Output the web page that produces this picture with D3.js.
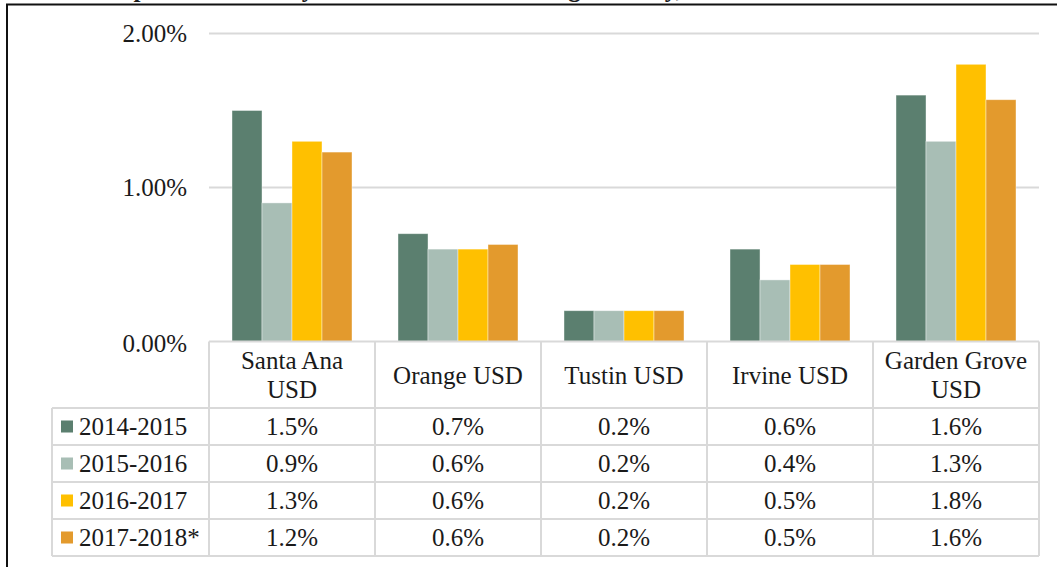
<!DOCTYPE html>
<html>
<head>
<meta charset="utf-8">
<script src="https://cdn.jsdelivr.net/npm/d3@7"></script>
<style>
  body { margin: 0; background: #fff; }
  text { font-family: "Liberation Serif", "Times New Roman", serif; fill: #1a1a1a; }
</style>
</head>
<body>
<div id="chart"></div>
<script>
const districts = ["Santa Ana USD", "Orange USD", "Tustin USD", "Irvine USD", "Garden Grove USD"];
const districtLines = [["Santa Ana", "USD"], ["Orange USD"], ["Tustin USD"], ["Irvine USD"], ["Garden Grove", "USD"]];
const years = ["2014-2015", "2015-2016", "2016-2017", "2017-2018*"];
const colors = ["#5b7f6f", "#a8beb5", "#ffc000", "#e39a2d"];

// rates in percent, one array per year
const rates2014 = [1.5, 0.7, 0.2, 0.6, 1.6];
const rates2015 = [0.9, 0.6, 0.2, 0.4, 1.3];
const rates2016 = [1.3, 0.6, 0.2, 0.5, 1.8];
const rates2017 = [1.23, 0.63, 0.2, 0.5, 1.57];
const series = [rates2014, rates2015, rates2016, rates2017];

const yTicks = [0, 1, 2];

const width = 1057;
const height = 567;
const plotLeft = 209, plotRight = 1039;
const plotTop = 33.5, plotBottom = 341.5;
const legendLeft = 52;
const headerBottom = 408;
const rowH = 37;
const fontSize = "25px";

const svg = d3.select("#chart")
    .append("svg")
        .attr("width", width)
        .attr("height", height);

// title, cut off by the top of the page
svg.append("text")
    .attr("x", 96)
    .attr("y", -3.5)
    .style("font-weight", "bold")
    .style("font-size", fontSize)
    .text("Suspension Rates by School District in Orange County, 2014-2018");

// frame
svg.append("line")
    .attr("x1", 6).attr("x2", width)
    .attr("y1", 4.5).attr("y2", 4.5)
    .attr("stroke", "#111").attr("stroke-width", 2);
svg.append("line")
    .attr("x1", 7).attr("x2", 7)
    .attr("y1", 4).attr("y2", height)
    .attr("stroke", "#111").attr("stroke-width", 2);

const xScale = d3.scaleBand()
    .domain(districts)
    .range([plotLeft, plotRight]);

const xInner = d3.scaleBand()
    .domain(years)
    .range([0, xScale.bandwidth()])
    .paddingOuter(0.767);

const yScale = d3.scaleLinear()
    .domain([0, 2])
    .range([plotBottom, plotTop]);

// gridlines
svg.append("g")
    .selectAll("line")
    .data(yTicks.filter(d => d > 0))
    .join("line")
        .attr("x1", plotLeft).attr("x2", plotRight)
        .attr("y1", d => yScale(d)).attr("y2", d => yScale(d))
        .attr("stroke", "#d9d9d9").attr("stroke-width", 2);

// y axis labels
const yAxis = svg.append("g")
    .attr("transform", "translate(" + 196 + ",0)")
    .call(d3.axisLeft(yScale)
        .tickValues(yTicks)
        .tickSize(0)
        .tickPadding(9)
        .tickFormat(d => d3.format(".2f")(d) + "%"));
yAxis.select(".domain").remove();
yAxis.selectAll("text")
    .style("font-size", fontSize)
    .style("font-family", "'Liberation Serif', 'Times New Roman', serif")
    .attr("fill", "#1a1a1a");
yAxis.selectAll(".tick").filter(d => d === 0).select("text").attr("dy", "0.4em");

// bars
const groups = svg.append("g")
    .selectAll("g")
    .data(districts)
    .join("g")
        .attr("transform", d => "translate(" + xScale(d) + ",0)");

groups.selectAll("rect")
    .data((d, i) => years.map((y, j) => ({year: y, value: series[j][i], color: colors[j]})))
    .join("rect")
        .attr("x", d => xInner(d.year))
        .attr("y", d => yScale(d.value))
        .attr("width", xInner.bandwidth())
        .attr("height", d => plotBottom - yScale(d.value))
        .attr("fill", d => d.color)
        .attr("stroke", "#ffffff")
        .attr("stroke-opacity", 0.5)
        .attr("stroke-width", 0.8);

// data table
const grid = svg.append("g")
    .attr("stroke", "#d9d9d9")
    .attr("stroke-width", 2);

const tableBottom = headerBottom + rowH * years.length;

grid.append("line")
    .attr("x1", plotLeft).attr("x2", plotRight)
    .attr("y1", plotBottom).attr("y2", plotBottom);

grid.selectAll(".hrow")
    .data(d3.range(years.length + 1))
    .join("line")
        .attr("class", "hrow")
        .attr("x1", legendLeft).attr("x2", plotRight)
        .attr("y1", i => headerBottom + i * rowH)
        .attr("y2", i => headerBottom + i * rowH);

grid.selectAll(".vcol")
    .data(districts.map(d => xScale(d)).concat([plotRight]))
    .join("line")
        .attr("class", "vcol")
        .attr("x1", d => d).attr("x2", d => d)
        .attr("y1", plotBottom).attr("y2", tableBottom);

grid.append("line")
    .attr("x1", legendLeft).attr("x2", legendLeft)
    .attr("y1", headerBottom).attr("y2", tableBottom);

// header labels
const header = svg.append("g")
    .selectAll("text")
    .data(districts)
    .join("text")
        .attr("x", d => xScale(d) + xScale.bandwidth() / 2)
        .attr("text-anchor", "middle")
        .style("font-size", fontSize);

header.each(function(d, i) {
    const lines = districtLines[i];
    const mid = (plotBottom + headerBottom) / 2;
    const lineH = 28.5;
    const startY = mid - (lines.length - 1) * lineH / 2;
    d3.select(this).selectAll("tspan")
        .data(lines)
        .join("tspan")
            .attr("x", xScale(d) + xScale.bandwidth() / 2)
            .attr("y", (l, k) => startY + k * lineH)
            .attr("dy", "0.35em")
            .text(l => l);
});

// table rows
const rows = svg.append("g")
    .selectAll("g")
    .data(years)
    .join("g")
        .attr("transform", (d, i) => "translate(0," + (headerBottom + i * rowH + rowH / 2) + ")");

rows.append("rect")
    .attr("x", 61)
    .attr("y", -6)
    .attr("width", 12)
    .attr("height", 12)
    .attr("fill", (d, i) => colors[i]);

rows.append("text")
    .attr("x", 79)
    .attr("dy", "0.35em")
    .style("font-size", fontSize)
    .text(d => d);

rows.selectAll(".val")
    .data((d, i) => series[i])
    .join("text")
        .attr("class", "val")
        .attr("x", (v, k) => xScale(districts[k]) + xScale.bandwidth() / 2)
        .attr("dy", "0.35em")
        .attr("text-anchor", "middle")
        .style("font-size", fontSize)
        .text(v => d3.format(".1f")(v) + "%");
</script>
</body>
</html>
